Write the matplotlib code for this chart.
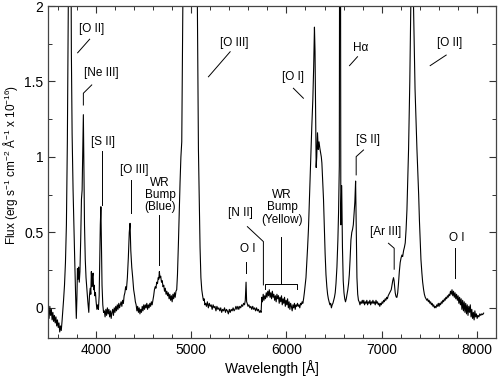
import matplotlib
matplotlib.use("Agg")
import matplotlib.pyplot as plt
import numpy as np

plt.rcParams['font.family'] = ['Liberation Sans', 'DejaVu Sans']
plt.rcParams['mathtext.fontset'] = 'custom'
plt.rcParams['mathtext.rm'] = 'Liberation Sans'
plt.rcParams['mathtext.it'] = 'Liberation Sans:italic'

# ---------------- data ----------------
wave_a = [3500,3508,3516,3524,3532,3540,3548,3556,3564,3572,3580,3588,3596,3604,3612,3620,3628,3636,3644,3652,
          3660,3670,3680,3690,3700,3710,3720,3727,3735,3742,3750,3760,3770,3778,3786,3794,3800,3806,3812,3818,
          3825,3832,3840,3848,3855,3862,3868,3874,3880,3888,3896,3905,3915,3925,3932,3940,3946,3952,3958,3964,
          3970,3976,3982,3988,3995,4002,4010,4018,4026,4034,4040,4046,4052,4058,4064,4072,4080,4088]
flux_a = [-0.02,-0.07,0.01,-0.05,-0.01,-0.08,-0.03,-0.09,-0.05,-0.10,-0.06,-0.12,-0.08,-0.13,-0.10,-0.16,-0.12,-0.15,-0.09,-0.02,
          0.05,0.15,0.30,0.55,1.10,2.0,3.4,4.0,3.0,1.7,1.15,0.78,0.5,0.3,0.1,-0.07,0.06,0.26,0.19,0.27,
          0.17,0.24,0.45,0.72,0.78,1.05,1.28,0.9,0.55,0.32,0.2,0.12,0.04,-0.03,0.08,0.13,0.09,0.24,0.14,0.21,
          0.23,0.12,0.15,0.08,0.1,0.04,-0.01,0.02,-0.01,0.08,0.3,0.55,0.67,0.42,0.15,0.02,-0.03,-0.02]

wave_b = [4096,4104,4112,4120,4128,4136,4144,4152,4160,4168,4176,4184,4192,4200,4208,4216,4224,4232,4240,4248,
          4256,4264,4272,4280,4288,4296,4304,4312,4320,4330,4340,4350,4358,4366,4376,4386,4396,4406,4414,4422,
          4430,4438,4446,4454,4462,4470,4478,4486,4494,4502,4510,4518,4526,4534,4542,4550,4558,4566,4574,4582,
          4590,4598,4606,4614,4622,4630,4638,4646,4654,4660,4666,4672,4680,4688,4696,4704,4712,4720,4728,4736,
          4744,4752,4760,4768,4776,4784,4792,4800,4808,4816,4824,4832,4840,4848,4856,4866,4875,4883,4892,4901,
          4912,4930,4960,5007,5040,5065,5076,5085,5093,5102,5111,5120,5128,5136,5144]
flux_b = [-0.06,-0.01,-0.05,0.0,-0.04,-0.01,-0.06,-0.02,-0.07,-0.03,-0.01,-0.05,0.0,-0.03,0.01,-0.02,0.02,-0.01,0.03,0.0,
          0.02,0.04,0.01,0.05,0.03,0.08,0.1,0.14,0.12,0.2,0.33,0.5,0.56,0.38,0.27,0.2,0.12,0.08,0.04,0.02,
          -0.02,0.01,-0.03,0.0,-0.04,-0.01,-0.03,0.01,-0.02,0.02,-0.01,0.02,0.0,0.03,-0.01,0.02,0.0,0.03,0.01,0.04,
          0.02,0.05,0.08,0.12,0.14,0.13,0.17,0.16,0.2,0.19,0.24,0.2,0.21,0.17,0.18,0.14,0.15,0.11,0.13,0.09,
          0.11,0.08,0.1,0.06,0.09,0.05,0.08,0.04,0.09,0.06,0.1,0.07,0.11,0.12,0.22,0.43,0.65,0.83,1.0,1.1,
          2.0,3.0,6.0,9.0,4.0,2.0,1.05,0.7,0.4,0.2,0.12,0.08,0.05,0.06,0.02]

wave_c = [5152,5160,5170,5180,5190,5200,5210,5220,5230,5240,5250,5260,5270,5280,5290,5300,5310,5320,5330,5340,
          5350,5360,5370,5380,5390,5400,5410,5420,5430,5440,5450,5460,5470,5480,5490,5500,5510,5520,5530,5540,
          5550,5560,5568,5576,5582,5588,5596,5606,5616,5626,5636,5646,5656,5666,5676,5686,5696,5706,5716,5726,
          5734,5741,5748,5756,5764,5772,5780,5788,5796,5804,5812,5820,5828,5836,5844,5852,5860,5868,5876,5884,
          5892,5900,5908,5916,5924,5932,5940,5948,5956,5964,5972,5980,5988,5996,6004,6012,6020,6028,6036,6044,
          6052,6060,6068,6076,6084,6092,6100,6108,6116,6124,6132,6140,6148,6156,6164,6172,6180,6188,6196]
flux_c = [0.03,0.01,0.04,0.0,0.03,0.01,0.02,-0.01,0.02,0.0,0.01,-0.02,0.01,-0.01,0.0,-0.02,0.0,-0.03,-0.01,-0.02,
          0.0,-0.03,-0.01,-0.02,-0.04,-0.01,-0.03,-0.01,-0.02,0.0,-0.02,-0.01,0.01,-0.01,0.01,-0.01,0.01,0.0,0.02,0.01,
          0.03,0.02,0.05,0.17,0.04,0.03,0.01,0.02,0.0,0.01,-0.01,0.01,-0.01,0.0,-0.02,0.0,-0.02,-0.01,-0.03,-0.02,
          -0.03,0.07,0.04,0.09,0.05,0.08,0.06,0.1,0.07,0.11,0.08,0.12,0.07,0.1,0.06,0.11,0.07,0.09,0.05,0.08,
          0.04,0.09,0.06,0.08,0.03,0.07,0.04,0.08,0.02,0.06,0.03,0.07,0.01,0.05,0.02,0.06,0.0,0.04,-0.01,0.03,
          0.01,-0.02,0.02,0.0,0.03,-0.01,0.02,0.01,0.03,0.01,0.02,0.0,0.03,0.02,0.04,0.03,0.06,0.1,0.15]

wave_d = [6205,6214,6222,6231,6240,6249,6258,6266,6277,6286,6294,6300,6306,6312,6318,6326,6334,6342,6350,6358,
          6366,6372,6380,6389,6398,6406,6415,6424,6432,6440,6448,6456,6464,6472,6480,6488,6496,6504,6512,6520,
          6530,6540,6547,6555,6563,6571,6580,6588,6596,6604,6612,6620,6628,6636,6644,6652,6660,6668,6677,6686,
          6694,6702,6710,6718,6726,6733,6740,6748,6756,6764,6772,6780,6788,6796]
flux_d = [0.2,0.3,0.4,0.52,0.7,0.89,1.05,1.2,1.38,1.6,1.86,1.7,1.3,0.93,1.0,1.16,1.05,1.1,1.06,1.03,
          1.0,0.96,0.85,0.72,0.52,0.36,0.22,0.14,0.09,0.06,0.04,0.02,0.03,0.0,0.02,0.03,0.05,0.07,0.1,0.16,
          0.27,0.45,0.63,0.94,5.0,0.55,0.81,0.4,0.18,0.1,0.06,0.04,0.06,0.09,0.12,0.16,0.22,0.32,0.45,0.5,
          0.52,0.55,0.62,0.7,0.84,0.5,0.2,0.09,0.05,0.04,0.02,0.04,0.03,0.05]

wave_e = [6804,6812,6820,6828,6836,6844,6852,6860,6868,6876,6884,6892,6900,6908,6916,6924,6932,6940,6948,6956,
          6964,6972,6980,6988,6996,7004,7012,7020,7028,7036,7044,7052,7060,7068,7076,7084,7092,7100,7108,7116,
          7124,7130,7136,7142,7148,7154,7160,7168,7176,7185,7194,7203,7212,7220,7230,7238,7247,7256,7265,7274,
          7282,7295,7306,7320,7334,7350,7370,7388,7396,7404,7412,7422,7430,7440,7448,7457,7466,7474,7482,7490,
          7498,7506,7514,7522,7530,7538,7546,7554,7562,7570,7578,7586,7594,7602,7610,7618,7626,7634,7642,7650,
          7658,7666,7674,7682,7690,7698,7706,7714,7722,7730,7738,7746,7754,7762,7770,7778,7786,7794,7802,7810,
          7818,7826,7834,7842,7850,7858,7866,7874,7882,7890,7898,7906,7914,7922,7930,7938,7946,7954,7962,7970,
          7978,7986,7994,8002,8010,8020,8030,8040,8050,8060,8070]
flux_e = [0.03,0.05,0.02,0.04,0.03,0.05,0.02,0.04,0.03,0.05,0.02,0.04,0.03,0.05,0.03,0.04,0.02,0.05,0.03,0.04,
          0.02,0.03,0.01,0.03,0.02,0.04,0.03,0.05,0.04,0.06,0.05,0.07,0.06,0.08,0.09,0.1,0.11,0.12,0.15,0.18,
          0.2,0.18,0.14,0.1,0.08,0.07,0.07,0.1,0.16,0.24,0.3,0.33,0.35,0.34,0.38,0.4,0.43,0.52,0.65,0.85,
          1.05,1.5,2.0,3.5,2.0,1.45,1.05,0.75,0.58,0.45,0.32,0.23,0.17,0.12,0.09,0.07,0.06,0.05,0.06,0.04,
          0.05,0.03,0.04,0.02,0.03,0.01,0.02,0.0,0.01,0.0,0.02,0.01,0.03,0.01,0.03,0.02,0.04,0.03,0.05,0.04,
          0.06,0.05,0.07,0.06,0.08,0.07,0.09,0.08,0.11,0.09,0.12,0.08,0.11,0.07,0.1,0.06,0.09,0.05,0.08,0.03,
          0.07,0.02,0.06,-0.01,0.05,-0.02,0.04,-0.03,0.03,-0.04,0.02,-0.05,0.01,-0.03,0.02,-0.06,-0.01,-0.07,-0.03,-0.08,
          -0.02,-0.06,-0.04,-0.07,-0.05,-0.06,-0.04,-0.05,-0.04,-0.045,-0.035]

# line labels: (text, text x, text y)
labels = [
    ("[O II]", 3952, 1.85),
    ("[Ne III]", 4057, 1.555),
    ("[S II]", 4072, 1.10),
    ("[O III]", 4402, 0.912),
    ("WR\nBump\n(Blue)", 4673, 0.748),
    ("[O III]", 5447, 1.753),
    ("[N II]", 5519, 0.627),
    ("O I", 5598, 0.389),
    ("WR\nBump\n(Yellow)", 5955, 0.665),
    ("[O I]", 6065, 1.528),
    ("H\u03b1", 6783, 1.724),
    ("[S II]", 6858, 1.113),
    ("[Ar III]", 7037, 0.505),
    ("O I", 7786, 0.466),
    ("[O II]", 7714, 1.757),
]
# leader lines: lists of (x, y) vertices
leaders = [
    [(3934, 1.78), (3808, 1.69)],
    [(3956, 1.477), (3868, 1.422), (3868, 1.344)],
    [(4059, 1.04), (4059, 0.68)],
    [(4365, 0.848), (4365, 0.63)],
    [(4666, 0.616), (4666, 0.285)],
    [(5409, 1.697), (5181, 1.531)],
    [(5590, 0.538), (5758, 0.439), (5758, 0.152)],
    [(5580, 0.307), (5580, 0.23)],
    [(5939, 0.472), (5939, 0.157)],
    [(5776, 0.124), (5776, 0.157), (6109, 0.157), (6109, 0.124)],
    [(6073, 1.455), (6178, 1.389)],
    [(6746, 1.664), (6662, 1.605)],
    [(6809, 1.046), (6732, 1.002), (6732, 0.881)],
    [(7071, 0.428), (7131, 0.395), (7131, 0.256)],
    [(7765, 0.395), (7765, 0.197)],
    [(7677, 1.675), (7509, 1.605)],
]

wavelength = wave_a + wave_b + wave_c + wave_d + wave_e
flux = flux_a + flux_b + flux_c + flux_d + flux_e

# ---------------- plot ----------------
fig = plt.figure(figsize=(4.98, 3.76), dpi=100)
ax = fig.add_axes([0.097, 0.101, 0.899, 0.883])

ax.plot(wavelength, flux, color='black', lw=0.8)

for pts in leaders:
    xs = [p[0] for p in pts]
    ys = [p[1] for p in pts]
    ax.plot(xs, ys, color='black', lw=0.7)

for txt, x, y in labels:
    ax.text(x, y, txt, ha='center', va='center', fontsize=8.5, linespacing=1.05)

ax.set_xlim(3500, 8200)
ax.set_ylim(-0.2, 2.0)
ax.set_xticks([4000, 5000, 6000, 7000, 8000])
ax.set_xticks(np.arange(3600, 8200, 200), minor=True)
ax.set_yticks([0, 0.5, 1, 1.5, 2])
ax.set_yticklabels(["0", "0.5", "1", "1.5", "2"])
ax.set_yticks(np.arange(-0.0, 2.0, 0.25), minor=True)
ax.tick_params(which='both', direction='in', top=True, right=True, labelsize=10, color='#333333')
ax.tick_params(which='major', length=5, width=0.8)
ax.tick_params(which='minor', length=3, width=0.7)
for s in ax.spines.values():
    s.set_color('#444444')
    s.set_linewidth(0.9)

ax.set_xlabel("Wavelength [\u00c5]", fontsize=10, labelpad=2)
ylab = ("Flux (erg s$^{\\mathregular{-1}}$ cm$^{\\mathregular{-2}}$ \u00c5$^{\\mathregular{-1}}$"
        " x 10$^{\\mathregular{-16}}$)")
ax.set_ylabel(ylab, fontsize=8.5)
ax.yaxis.set_label_coords(-0.064, 0.52)

fig.savefig("out.png", dpi=100)
